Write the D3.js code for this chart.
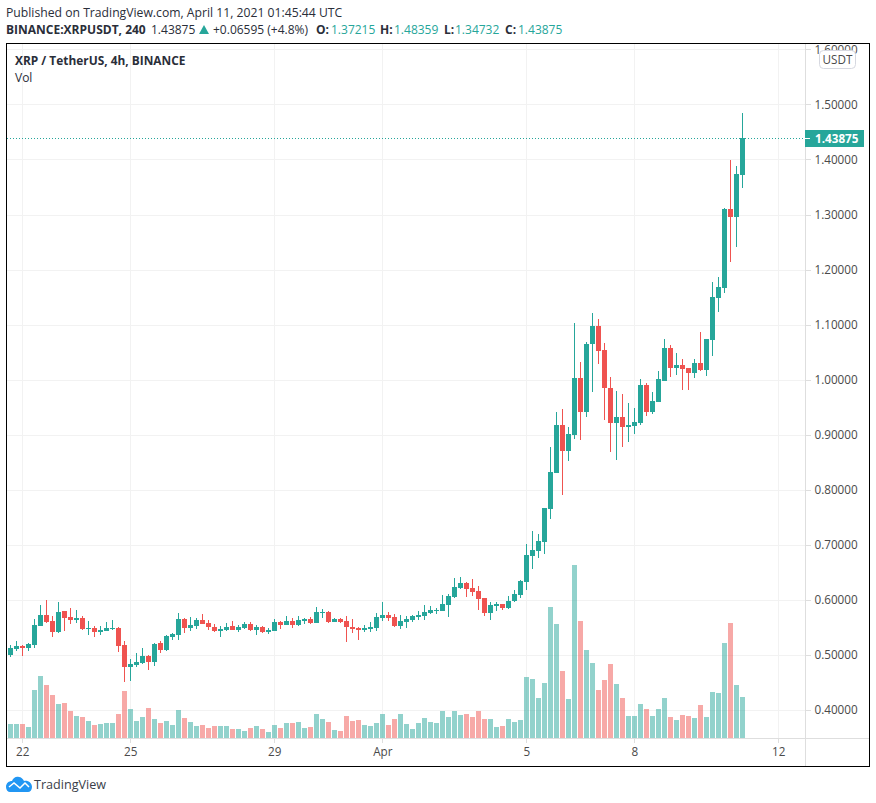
<!DOCTYPE html>
<html><head><meta charset="utf-8">
<script src="https://cdnjs.cloudflare.com/ajax/libs/d3/7.8.5/d3.min.js"></script>
<style>
html,body{margin:0;padding:0;background:#fff}
svg{display:block}
text{font-family:"Open Sans","Noto Sans",sans-serif}
</style></head><body>
<svg id="c" width="876" height="803"></svg>
<script>
const opens=[.5006,.5115,.5169,.5133,.5188,.5533,.5733,.5624,.5418,.5806,.5697,.5642,.5679,.5479,.5497,.5424,.5442,.5479,.5497,.5188,.4788,.4824,.4860,.4988,.4879,.5224,.5097,.5333,.5369,.5660,.5497,.5533,.5642,.5588,.5515,.5442,.5460,.5533,.5460,.5497,.5570,.5460,.5515,.5424,.5442,.5606,.5551,.5624,.5551,.5624,.5660,.5588,.5769,.5788,.5606,.5660,.5624,.5515,.5497,.5460,.5479,.5497,.5679,.5733,.5697,.5533,.5606,.5642,.5697,.5715,.5769,.5806,.5806,.5915,.6060,.6224,.6315,.6224,.6169,.6042,.5769,.5897,.5933,.5860,.5988,.6097,.6333,.6806,.6897,.7060,.7661,.8316,.9170,.8698,.8989,1.0025,.9407,1.0643,1.0970,1.0534,.9843,.9207,.9316,.9134,.9152,.9207,.9897,.9407,.9588,.9970,1.0570,1.0207,1.0261,1.0207,1.0116,1.0297,1.0170,1.0716,1.1493,1.1675,1.3108,1.2963,1.37215];
const highs=[.5188,.5260,.5188,.5224,.5660,.5915,.6006,.5715,.5969,.5806,.5860,.5824,.5715,.5624,.5533,.5533,.5606,.5642,.5503,.5260,.4933,.5042,.5133,.5006,.5224,.5260,.5369,.5406,.5769,.5679,.5697,.5679,.5751,.5642,.5570,.5533,.5588,.5624,.5551,.5606,.5606,.5551,.5533,.5497,.5660,.5624,.5715,.5679,.5715,.5679,.5697,.5879,.5842,.5806,.5679,.5679,.5715,.5660,.5515,.5551,.5606,.5769,.5969,.5788,.5751,.5733,.5715,.5733,.5806,.5915,.5897,.5860,.6097,.6115,.6406,.6424,.6333,.6388,.6260,.6042,.5969,.5969,.5933,.6078,.6188,.6369,.7024,.7260,.7206,.7679,.8788,.9407,.9461,.9134,1.1025,1.0316,1.0679,1.1206,1.1097,1.0661,1.0043,.9788,.9734,.9570,.9479,1.0007,.9934,.9770,1.0152,1.0734,1.0625,1.0479,1.0370,1.0207,1.0370,1.0861,1.0734,1.1768,1.1874,1.3126,1.3996,1.3888,1.48359];
const lows=[.4957,.5067,.4988,.5079,.5133,.5533,.5588,.5333,.5406,.5442,.5570,.5588,.5460,.5369,.5333,.5369,.5442,.5460,.5060,.4515,.4533,.4788,.4842,.4733,.4806,.5042,.5079,.5279,.5279,.5406,.5442,.5479,.5570,.5460,.5424,.5333,.5442,.5460,.5424,.5479,.5442,.5369,.5406,.5388,.5442,.5479,.5551,.5497,.5533,.5570,.5570,.5588,.5679,.5588,.5606,.5588,.5242,.5406,.5279,.5424,.5424,.5442,.5624,.5624,.5515,.5479,.5497,.5606,.5642,.5642,.5751,.5751,.5806,.5697,.6042,.6206,.6060,.6078,.5824,.5715,.5642,.5806,.5824,.5842,.5969,.6042,.6188,.6569,.6769,.6842,.7480,.8298,.7916,.8534,.8916,.8898,.9316,.9770,1.0279,.9261,.8680,.8552,.8788,.8861,.9007,.9170,.9334,.9370,.9588,.9970,1.0043,1.0079,.9807,.9807,1.0025,1.0152,1.0061,1.0425,1.1239,1.1584,1.2146,1.2418,1.34732];
const closes=[.5133,.5169,.5133,.5206,.5551,.5733,.5606,.5424,.5788,.5679,.5642,.5679,.5479,.5497,.5424,.5460,.5497,.5497,.5169,.4788,.4842,.4879,.4988,.4879,.5206,.5097,.5351,.5388,.5660,.5497,.5551,.5642,.5570,.5515,.5442,.5479,.5515,.5460,.5515,.5570,.5460,.5515,.5424,.5460,.5606,.5551,.5624,.5551,.5642,.5660,.5588,.5788,.5788,.5606,.5660,.5606,.5515,.5479,.5460,.5497,.5515,.5697,.5733,.5679,.5533,.5624,.5660,.5715,.5733,.5788,.5824,.5824,.5933,.6078,.6242,.6315,.6206,.6151,.6024,.5769,.5915,.5933,.5860,.5988,.6115,.6351,.6824,.6915,.7079,.7679,.8334,.9170,.8698,.9007,1.0025,.9407,1.0643,1.0970,1.0516,.9843,.9207,.9316,.9134,.9170,.9225,.9897,.9407,.9607,1.0007,1.0570,1.0207,1.0261,1.0188,1.0116,1.0297,1.0170,1.0734,1.1495,1.1693,1.3108,1.2963,1.3742,1.43875];
const volumes=[42,42,42,33,144,186,159,129,102,105,81,66,63,51,39,42,45,45,72,141,87,51,63,90,57,45,51,39,84,60,48,36,39,30,36,36,36,27,27,21,30,36,27,18,39,30,45,45,48,30,33,72,57,48,24,21,66,51,54,39,36,45,72,39,57,72,42,27,45,60,48,45,81,63,81,69,72,63,81,57,57,33,36,57,48,54,183,177,120,165,393,342,201,117,519,351,264,225,144,174,222,162,120,66,66,102,87,66,87,120,63,54,69,66,60,99,63,138,135,285,345,159,123];
const priceTicks=[1.6,1.5,1.4,1.3,1.2,1.1,1.0,0.9,0.8,0.7,0.6,0.5,0.4];
const timeTicks=["2021-03-22","2021-03-25","2021-03-29","2021-04-01","2021-04-05","2021-04-08","2021-04-12"];
const timeLabels=["22","25","29","Apr","5","8","12"];
const firstBar="2021-03-21T16:00:00Z", lastBar="2021-04-11T00:00:00Z", barHours=4;
const lastPrice=1.43875;

const UP="#26a69a",DOWN="#ef5350",GRID="#f2f2f2",AXIS="#dedede",TXT="#4a4a4a";
const AF='"Liberation Sans",Arial,sans-serif';
const L=6.5,R=805.5,T=43.5,B=738.5,FR=869.5,FB=766.5;
const svg=d3.select("#c");
const x=d3.scaleUtc().domain([new Date(firstBar),new Date(lastBar)]).range([10.3,742.3]);
const y=d3.scaleLinear().domain([0.4,1.5]).range([710.2,104.4]);
const v=d3.scaleLinear().domain([0,519]).range([738,565]);
const tDates=timeTicks.map(d=>new Date(d+"T00:00:00Z"));
const barX=i=>x(new Date(+new Date(firstBar)+i*barHours*3600e3));

svg.append("defs").append("clipPath").attr("id","pane").append("rect").attr("x",L).attr("y",T).attr("width",R-L).attr("height",B-T);
svg.append("defs").append("clipPath").attr("id","scale").append("rect").attr("x",R).attr("y",T).attr("width",FR-R).attr("height",B-T);

const grid=svg.append("g").attr("clip-path","url(#pane)").attr("shape-rendering","crispEdges");
grid.selectAll("line.h").data(priceTicks).join("line").attr("class","h").attr("x1",L).attr("x2",R)
  .attr("y1",d=>Math.round(y(d))+.5).attr("y2",d=>Math.round(y(d))+.5).attr("stroke",GRID);
grid.selectAll("line.v").data(tDates).join("line").attr("class","v").attr("y1",T).attr("y2",B)
  .attr("x1",d=>Math.round(x(d))+.5).attr("x2",d=>Math.round(x(d))+.5).attr("stroke",GRID);

const idx=d3.range(opens.length);
const pane=svg.append("g").attr("clip-path","url(#pane)").attr("shape-rendering","crispEdges");
pane.selectAll("rect.vol").data(idx).join("rect").attr("class","vol")
  .attr("x",i=>Math.round(barX(i))-2).attr("width",5)
  .attr("y",i=>v(volumes[i])).attr("height",i=>v(0)-v(volumes[i]))
  .attr("fill",i=>closes[i]<opens[i]?DOWN:UP).attr("fill-opacity",.5);
pane.selectAll("line.wick").data(idx).join("line").attr("class","wick")
  .attr("x1",i=>Math.round(barX(i))+.5).attr("x2",i=>Math.round(barX(i))+.5)
  .attr("y1",i=>Math.round(y(highs[i]))).attr("y2",i=>Math.round(y(lows[i])))
  .attr("stroke",i=>closes[i]<opens[i]?DOWN:UP);
pane.selectAll("rect.body").data(idx).join("rect").attr("class","body")
  .attr("x",i=>Math.round(barX(i))-2).attr("width",5)
  .attr("y",i=>Math.round(y(Math.max(opens[i],closes[i]))))
  .attr("height",i=>Math.max(1,Math.round(y(Math.min(opens[i],closes[i])))-Math.round(y(Math.max(opens[i],closes[i])))))
  .attr("fill",i=>closes[i]<opens[i]?DOWN:UP);

const lineY=Math.round(y(lastPrice))+.5;
svg.append("line").attr("x1",L).attr("x2",R).attr("y1",lineY).attr("y2",lineY)
  .attr("stroke",UP).attr("stroke-dasharray","1 2").attr("shape-rendering","crispEdges");

const yAxis=d3.axisRight(y).tickValues(priceTicks).tickSize(5).tickPadding(4).tickFormat(d3.format(".5f"));
const yg=svg.append("g").attr("clip-path","url(#scale)");
const yin=yg.append("g").attr("transform",`translate(${R},0)`).call(yAxis);
yin.select(".domain").remove();
yin.selectAll(".tick line").attr("stroke",AXIS).attr("shape-rendering","crispEdges");
yin.selectAll(".tick text").attr("fill",TXT).attr("font-size",11.7).attr("font-family",AF);

const xAxis=d3.axisBottom(x).tickValues(tDates).tickSize(4).tickPadding(5).tickFormat((d,i)=>timeLabels[i]);
const xg=svg.append("g").attr("transform",`translate(0,${B})`).call(xAxis);
xg.select(".domain").remove();
xg.selectAll(".tick line").attr("stroke",AXIS).attr("shape-rendering","crispEdges");
xg.selectAll(".tick text").attr("fill",TXT).attr("font-size",11.7).attr("font-family",AF);

svg.append("line").attr("x1",L).attr("x2",FR).attr("y1",B).attr("y2",B).attr("stroke",AXIS).attr("shape-rendering","crispEdges");
svg.append("line").attr("x1",R).attr("x2",R).attr("y1",T).attr("y2",FB).attr("stroke",AXIS).attr("shape-rendering","crispEdges");

// last price label
svg.append("rect").attr("x",805).attr("y",lineY-8.5).attr("width",59).attr("height",17).attr("fill",UP);
svg.append("line").attr("x1",805).attr("x2",810).attr("y1",lineY).attr("y2",lineY).attr("stroke","#fff").attr("shape-rendering","crispEdges");
svg.append("text").attr("x",815).attr("y",lineY+4.5).attr("fill","#fff").attr("font-size",11.7).attr("font-weight",700).attr("font-family",AF).text(d3.format(".5f")(lastPrice));
// currency badge
svg.append("rect").attr("x",819.5).attr("y",50.5).attr("width",36).attr("height",18).attr("rx",4).attr("fill","#fff").attr("stroke","#d6d8e0");
svg.append("text").attr("x",837.5).attr("y",63.5).attr("text-anchor","middle").attr("fill",TXT).attr("font-size",11.7).attr("font-family",AF).text("USDT");

// frame
svg.append("rect").attr("x",L).attr("y",T).attr("width",FR-L).attr("height",FB-T).attr("fill","none").attr("stroke","#000").attr("shape-rendering","crispEdges");

// headers
const H="#2a2e39";
svg.append("text").attr("x",6).attr("y",17).attr("font-size",12.2).attr("fill",H).text("Published on TradingView.com, April 11, 2021 01:45:44 UTC");
const hdr=[[6,"BINANCE:XRPUSDT, 240",700,H],[151,"1.43875",400,H],[213,"+0.06595 (+4.8%)",400,H],[316,"O:",700,H],[331,"1.37215",400,UP],[380,"H:",700,H],[394,"1.48359",400,UP],[444,"L:",700,H],[455,"1.34732",400,UP],[505,"C:",700,H],[518,"1.43875",400,UP]];
svg.selectAll("text.hd").data(hdr).join("text").attr("class","hd").attr("x",d=>d[0]).attr("y",34).attr("font-size",12)
  .attr("font-weight",d=>d[2]).attr("fill",d=>d[3]).text(d=>d[1]);
svg.append("path").attr("d","M199 34L204 25L209 34Z").attr("fill",UP);
svg.append("text").attr("x",15).attr("y",65).attr("font-size",11.9).attr("font-weight",700).attr("fill",H).text("XRP / TetherUS, 4h, BINANCE");
svg.append("text").attr("x",15).attr("y",81.5).attr("font-size",12).attr("fill",H).text("Vol");

// logo
svg.append("path").attr("d","M6 787C6 783 9 781 12 781C13 778 16 776 19 777C21 777 23 779 24 781C28 780 32 783 32 787C32 790 30 792 28 792L10 792C8 792 6 790 6 787Z").attr("fill","#2196f3");
svg.append("path").attr("d","M9 787L14 783L20 788L25 783L29 787").attr("fill","none").attr("stroke","#fff").attr("stroke-width",1.5);
svg.append("text").attr("x",34).attr("y",789).attr("font-size",12.6).attr("fill","#3a3e49").text("TradingView");
</script>
</body></html>
